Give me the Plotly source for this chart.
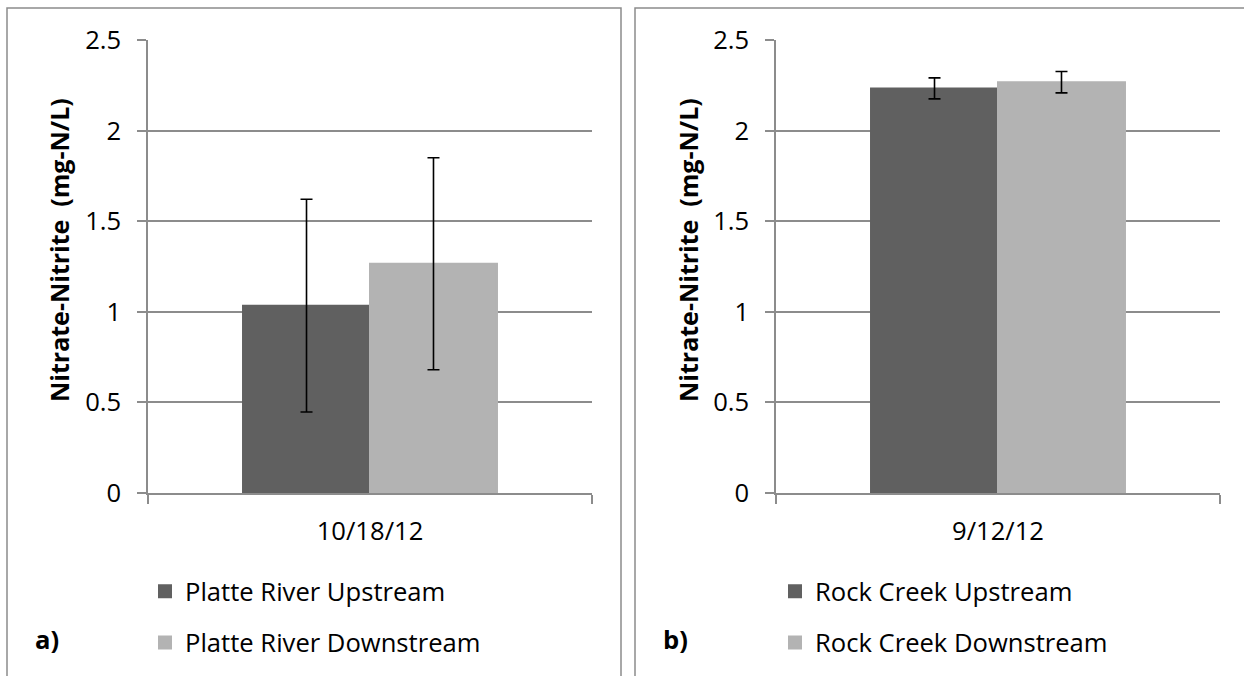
import plotly.graph_objects as go

W, H = 1244, 676

# Data
dates_a = ["10/18/12"]
platte_up = [1.034]
platte_up_err = [0.587]
platte_down = [1.265]
platte_down_err = [0.585]

dates_b = ["9/12/12"]
rock_up = [2.233]
rock_up_err = [0.058]
rock_down = [2.267]
rock_down_err = [0.059]

series_names_a = ["Platte River Upstream", "Platte River Downstream"]
series_names_b = ["Rock Creek Upstream", "Rock Creek Downstream"]
y_title = "Nitrate-Nitrite \u00a0(mg-N/L)"
panel_labels = ["a)", "b)"]

DARK = "#606060"
LIGHT = "#b3b3b3"
GRID = "#8c8c8c"
FONT = "Open Sans"
FS = 25.6


def px(x):
    return x / W


def py(y):
    return 1 - y / H


fig = go.Figure()

err_style = dict(type="data", color="black", thickness=1.6, width=6, visible=True)


def bar(x, y, err, name, color, xa, ya, leg, grp):
    return go.Bar(x=x, y=y, name=name, marker=dict(color=color, line=dict(color=color, width=2)),
                  error_y=dict(array=err, **err_style),
                  xaxis=xa, yaxis=ya, legend=leg, legendgroup=grp)


fig.add_trace(bar(dates_a, platte_up, platte_up_err, series_names_a[0], DARK, "x", "y", "legend", "a1"))
fig.add_trace(bar(dates_a, platte_down, platte_down_err, series_names_a[1], LIGHT, "x", "y", "legend", "a2"))
fig.add_trace(bar(dates_b, rock_up, rock_up_err, series_names_b[0], DARK, "x2", "y2", "legend2", "b1"))
fig.add_trace(bar(dates_b, rock_down, rock_down_err, series_names_b[1], LIGHT, "x2", "y2", "legend2", "b2"))

ydom = [py(493), py(40)]

xa_common = dict(type="category", tickson="boundaries", ticks="outside", ticklen=9,
                 tickcolor=GRID, tickwidth=1.5, showline=True, linecolor=GRID, linewidth=1.5,
                 showgrid=False, tickfont=dict(family=FONT, size=FS, color="black"),
                 ticklabelstandoff=15, fixedrange=True, automargin=False)
ya_common = dict(range=[0, 2.5], dtick=0.5, tick0=0, ticks="outside", ticklen=9,
                 tickcolor=GRID, tickwidth=1.5, showline=True, linecolor=GRID, linewidth=1.5,
                 showgrid=True, gridcolor=GRID, gridwidth=1.5, zeroline=False,
                 tickfont=dict(family=FONT, size=FS, color="black"),
                 ticklabelstandoff=11, fixedrange=True, automargin=False)

legend_common = dict(font=dict(family=FONT, size=FS, color="black"), bgcolor="rgba(0,0,0,0)",
                     tracegroupgap=15, orientation="v", xanchor="left", yanchor="bottom",
                     itemclick=False, itemdoubleclick=False)

fig.update_layout(
    width=W, height=H,
    margin=dict(l=0, r=0, t=0, b=0, autoexpand=False),
    paper_bgcolor="white", plot_bgcolor="white",
    barmode="group", bargap=0.428, bargroupgap=0,
    showlegend=True,
    xaxis=dict(domain=[px(148), px(592)], anchor="y", **xa_common),
    yaxis=dict(domain=ydom, anchor="x", **ya_common),
    xaxis2=dict(domain=[px(776), px(1220)], anchor="y2", **xa_common),
    yaxis2=dict(domain=ydom, anchor="x2", **ya_common),
    legend=dict(x=px(145), y=py(666), **legend_common),
    legend2=dict(x=px(775), y=py(666), **legend_common),
    font=dict(family=FONT, size=FS, color="black"),
)

# y-axis titles and panel labels
for xc, lab, lx in [(59, panel_labels[0], 47), (688, panel_labels[1], 675)]:
    fig.add_annotation(text=f"<b>{y_title}</b>", x=px(xc), y=py(250), xref="paper", yref="paper",
                       textangle=-90, showarrow=False, xanchor="center", yanchor="middle",
                       font=dict(family=FONT, size=25, color="black"))
    fig.add_annotation(text=f"<b>{lab}</b>", x=px(lx), y=py(639), xref="paper", yref="paper",
                       showarrow=False, xanchor="center", yanchor="middle",
                       font=dict(family=FONT, size=FS, color="black"))

# panel borders
fig.add_shape(type="rect", xref="paper", yref="paper", x0=px(7), x1=px(621), y0=py(700), y1=py(8),
              line=dict(color="#8c8c8c", width=1.5), layer="below")
fig.add_shape(type="rect", xref="paper", yref="paper", x0=px(635), x1=px(1270), y0=py(700), y1=py(8),
              line=dict(color="#8c8c8c", width=1.5), layer="below")

fig.write_html("out.html", config={"displayModeBar": False})
